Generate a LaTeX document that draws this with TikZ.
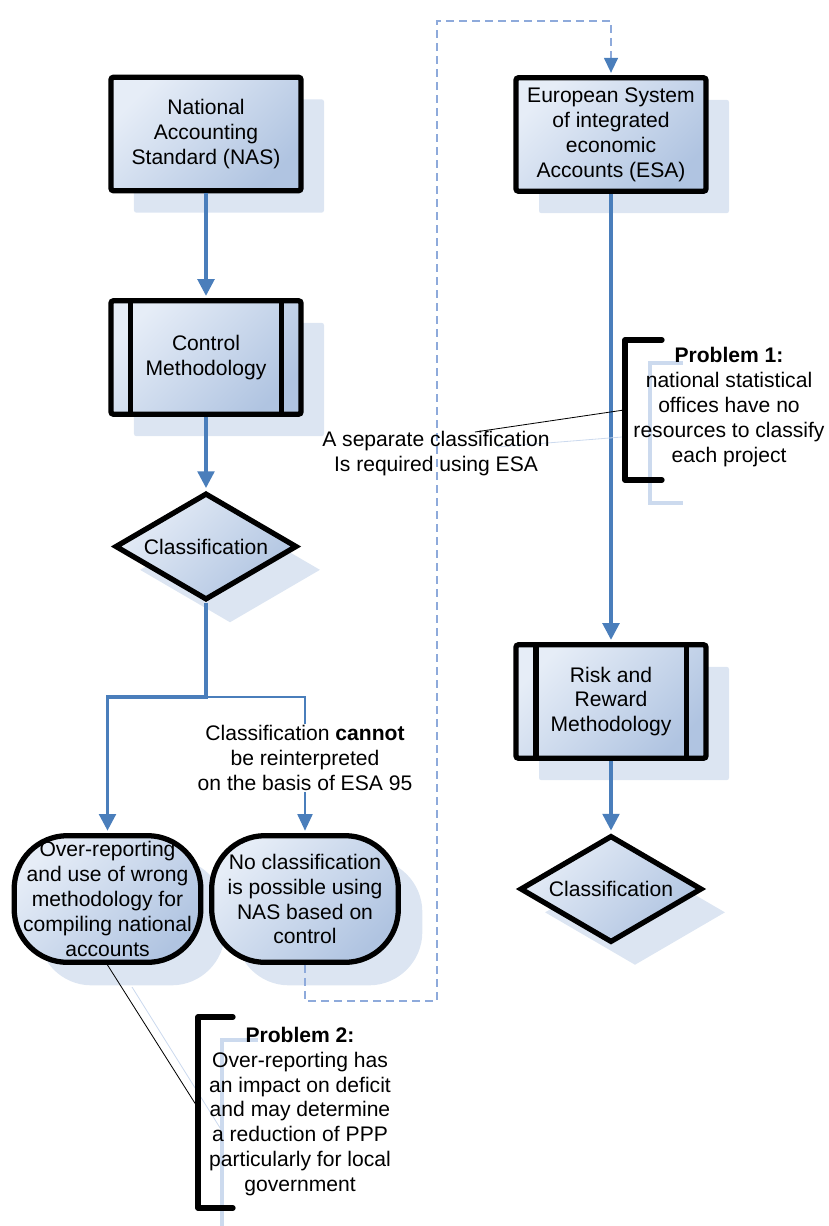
\documentclass[tikz,border=0pt]{standalone}
\usepackage{fontspec}
\setmainfont{Liberation Sans}
\usepackage{tikz}
\usetikzlibrary{shapes,shadows,arrows.meta,positioning,calc}
\definecolor{flowblue}{RGB}{74,126,187}
\definecolor{boxlight}{RGB}{230,237,247}
\definecolor{boxdark}{RGB}{176,196,225}
\definecolor{shadowblue}{RGB}{220,229,242}
\definecolor{brackblue}{RGB}{204,218,238}
\definecolor{dashblue}{RGB}{142,170,219}
\newcommand{\boxfont}{\fontsize{18}{21.3}\selectfont}
\tikzset{
  stdbox/.style={rectangle, draw=black, line width=4.5pt, rounded corners=2pt,
    top color=boxlight, bottom color=boxdark, shading angle=45,
    minimum width=5.7cm, minimum height=3.4cm, inner sep=0pt, align=center, font=\boxfont,
    drop shadow={shadow xshift=0.69cm, shadow yshift=-0.66cm, fill=shadowblue, opacity=1}},
  decision/.style={diamond, aspect=1.7, draw=black, line width=4.5pt,
    top color=boxlight, bottom color=boxdark, shading angle=45,
    minimum width=5.46cm, minimum height=3.21cm, inner sep=0pt, font=\boxfont,
    drop shadow={shadow xshift=0.72cm, shadow yshift=-0.7cm, fill=shadowblue, opacity=1}},
  terminal/.style={rectangle, draw=black, line width=4.5pt, rounded corners=1.6cm,
    top color=boxlight, bottom color=boxdark, shading angle=45,
    minimum width=5.6cm, minimum height=3.8cm, inner sep=0pt, align=center, font=\boxfont,
    drop shadow={shadow xshift=0.72cm, shadow yshift=-0.69cm, fill=shadowblue, opacity=1}},
  note/.style={font=\boxfont, align=center, inner sep=1pt},
  barline/.style={line width=4.5pt},
  flow/.style={draw=flowblue, line width=2.8pt, shorten >=2pt, -{Triangle[length=0.5cm,width=0.5cm]}},
  thinflow/.style={draw=flowblue, line width=1pt, shorten >=2pt, -{Triangle[length=0.5cm,width=0.46cm]}},
  dashflow/.style={draw=dashblue, line width=1.2pt, dash pattern=on 6.8pt off 4.3pt, shorten >=2pt,
    -{Triangle[length=0.45cm,width=0.42cm,color=flowblue]}},
  bracket/.style={line width=4.5pt, line cap=round, line join=round},
  bracketshadow/.style={draw=brackblue, line width=4pt},
  callout/.style={line width=0.7pt},
  calloutshadow/.style={draw=brackblue, line width=0.7pt}
}
\begin{document}
\begin{tikzpicture}[x=0.03cm, y=-0.03cm]
  \useasboundingbox (0,0) rectangle (828,1226);
  % left column
  \node[stdbox] (nas) at (206,134) {National\\Accounting\\Standard (NAS)};
  \node[stdbox] (ctrl) at (206,357.5) {Control\\Methodology};
  \draw[barline] ([xshift=0.675cm]ctrl.north west) -- ([xshift=0.675cm]ctrl.south west);
  \draw[barline] ([xshift=-0.675cm]ctrl.north east) -- ([xshift=-0.675cm]ctrl.south east);
  \node[decision] (cls1) at (206,546.5) {Classification};
  \node[terminal] (over) at (107.5,899) {Over-reporting\\and use of wrong\\methodology for\\compiling national\\accounts};
  \node[terminal] (noclass) at (305,899) {No classification\\is possible using\\NAS based on\\control};
  % right column
  \node[stdbox] (esa) at (611,134.5) {European System\\of integrated\\economic\\Accounts (ESA)};
  \node[stdbox] (risk) at (611,701.5) {Risk and\\Reward\\Methodology};
  \draw[barline] ([xshift=0.675cm]risk.north west) -- ([xshift=0.675cm]risk.south west);
  \draw[barline] ([xshift=-0.675cm]risk.north east) -- ([xshift=-0.675cm]risk.south east);
  \node[decision] (cls2) at (611,889) {Classification};
  % connectors
  \coordinate (split) at (206,697);
  \draw[flow] (nas) -- (ctrl);
  \draw[flow] (ctrl) -- (cls1);
  \draw[flow] (cls1.south) -- (split) -| (over.north);
  \draw[thinflow] (split) -| (noclass.north);
  \node[note, fill=white] (cannot) at (305,758) {Classification \textbf{cannot}\\be reinterpreted\\on the basis of ESA 95};
  \draw[flow] (esa) -- (risk);
  \draw[flow] (risk) -- (cls2);
  \draw[dashflow] (noclass.south) |- (437,1001) -- (437,21) -| (esa.north);
  % problem 1
  \coordinate (p1tip) at (624,410);
  \coordinate (sepend) at (475,432);
  \draw[calloutshadow] (622,437) -- (497,447);
  \draw[callout] (p1tip) -- (sepend);
  \node[note] (sepnote) at (436,454) {A separate classification\\Is required using ESA};
  \draw[bracketshadow] (683,363) -- (650,363) -- (650,503) -- (683,503);
  \draw[bracket] (662,340) -- (625,340) -- (625,480) -- (662,480);
  \node[note] (prob1) at (729,407) {\textbf{Problem 1:}\\national statistical\\offices have no\\resources to classify\\each project};
  % problem 2
  \coordinate (p2tip) at (198,1108);
  \draw[calloutshadow] (132,987) -- (222,1131);
  \draw[callout] (over.south) -- (p2tip);
  \draw[bracketshadow] (258,1040) -- (222,1040) -- (222,1230);
  \draw[bracket] (233,1017) -- (198,1017) -- (198,1208) -- (233,1208);
  \node[note] (prob2) at (300,1111.5) {\textbf{Problem 2:}\\Over-reporting has\\an impact on deficit\\and may determine\\a reduction of PPP\\particularly for local\\government};
\end{tikzpicture}
\end{document}
